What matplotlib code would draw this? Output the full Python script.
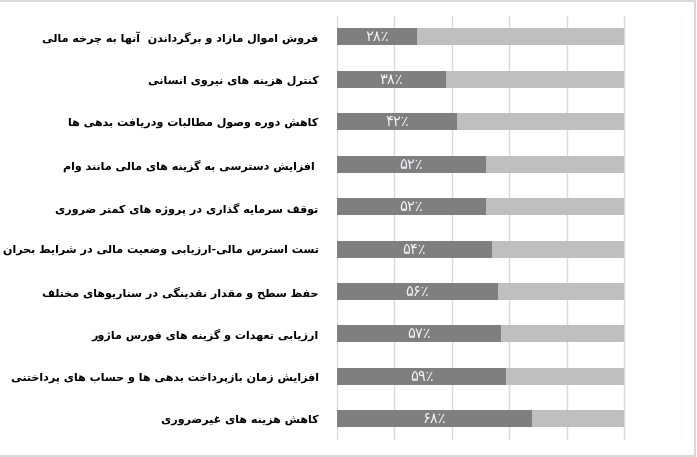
import matplotlib
matplotlib.use("Agg")
import matplotlib.pyplot as plt
from matplotlib.patches import Rectangle

categories = [
    "فروش اموال مازاد و برگرداندن  آنها به چرخه مالی",
    "کنترل هزینه های نیروی انسانی",
    "کاهش دوره وصول مطالبات ودریافت بدهی ها",
    " افزایش دسترسی به گزینه های مالی مانند وام",
    "توقف سرمایه گذاری در پروژه های کمتر ضروری",
    "تست استرس مالی-ارزیابی وضعیت مالی در شرایط بحران",
    "حفظ سطح و مقدار نقدینگی در سناریوهای مختلف",
    "ارزیابی تعهدات و گزینه های فورس ماژور",
    "افزایش زمان بازپرداخت بدهی ها و حساب های پرداختنی",
    "کاهش هزینه های غیرضروری",
]
values = [28, 38, 42, 52, 52, 54, 56, 57, 59, 68]
totals = [100] * len(values)

# --- minimal Arabic/Persian shaping for matplotlib (no bidi engine) ---
FORMS = {
    'ا': (0xFE8D, 0xFE8E, None, None), 'آ': (0xFE81, 0xFE82, None, None),
    'ب': (0xFE8F, 0xFE90, 0xFE91, 0xFE92), 'پ': (0xFB56, 0xFB57, 0xFB58, 0xFB59),
    'ت': (0xFE95, 0xFE96, 0xFE97, 0xFE98), 'ث': (0xFE99, 0xFE9A, 0xFE9B, 0xFE9C),
    'ج': (0xFE9D, 0xFE9E, 0xFE9F, 0xFEA0), 'چ': (0xFB7A, 0xFB7B, 0xFB7C, 0xFB7D),
    'ح': (0xFEA1, 0xFEA2, 0xFEA3, 0xFEA4), 'خ': (0xFEA5, 0xFEA6, 0xFEA7, 0xFEA8),
    'د': (0xFEA9, 0xFEAA, None, None), 'ذ': (0xFEAB, 0xFEAC, None, None),
    'ر': (0xFEAD, 0xFEAE, None, None), 'ز': (0xFEAF, 0xFEB0, None, None),
    'ژ': (0xFB8A, 0xFB8B, None, None),
    'س': (0xFEB1, 0xFEB2, 0xFEB3, 0xFEB4), 'ش': (0xFEB5, 0xFEB6, 0xFEB7, 0xFEB8),
    'ص': (0xFEB9, 0xFEBA, 0xFEBB, 0xFEBC), 'ض': (0xFEBD, 0xFEBE, 0xFEBF, 0xFEC0),
    'ط': (0xFEC1, 0xFEC2, 0xFEC3, 0xFEC4), 'ظ': (0xFEC5, 0xFEC6, 0xFEC7, 0xFEC8),
    'ع': (0xFEC9, 0xFECA, 0xFECB, 0xFECC), 'غ': (0xFECD, 0xFECE, 0xFECF, 0xFED0),
    'ف': (0xFED1, 0xFED2, 0xFED3, 0xFED4), 'ق': (0xFED5, 0xFED6, 0xFED7, 0xFED8),
    'ک': (0xFB8E, 0xFB8F, 0xFB90, 0xFB91), 'گ': (0xFB92, 0xFB93, 0xFB94, 0xFB95),
    'ل': (0xFEDD, 0xFEDE, 0xFEDF, 0xFEE0), 'م': (0xFEE1, 0xFEE2, 0xFEE3, 0xFEE4),
    'ن': (0xFEE5, 0xFEE6, 0xFEE7, 0xFEE8), 'ه': (0xFEE9, 0xFEEA, 0xFEEB, 0xFEEC),
    'و': (0xFEED, 0xFEEE, None, None), 'ی': (0xFBFC, 0xFBFD, 0xFBFE, 0xFBFF),
    'ي': (0xFBFC, 0xFBFD, 0xFBFE, 0xFBFF),
    'ئ': (0xFE89, 0xFE8A, 0xFE8B, 0xFE8C),
}


def shape(text):
    chars = list(text)
    out = []
    n = len(chars)
    i = 0
    while i < n:
        c = chars[i]
        if c not in FORMS:
            out.append(c)
            i += 1
            continue
        prev = chars[i - 1] if i > 0 else None
        join_prev = prev in FORMS and FORMS[prev][2] is not None
        # lam-alef ligature
        if c == 'ل' and i + 1 < n and chars[i + 1] == 'ا':
            out.append(chr(0xFEFC if join_prev else 0xFEFB))
            i += 2
            continue
        nxt = chars[i + 1] if i + 1 < n else None
        iso, fin, ini, med = FORMS[c]
        join_next = ini is not None and nxt in FORMS
        if join_prev and join_next:
            out.append(chr(med))
        elif join_prev:
            out.append(chr(fin))
        elif join_next:
            out.append(chr(ini))
        else:
            out.append(chr(iso))
        i += 1
    return ''.join(reversed(out))


PERSIAN_DIGITS = str.maketrans('0123456789', '۰۱۲۳۴۵۶۷۸۹')


def pct(v):
    return str(v).translate(PERSIAN_DIGITS) + '٪'


dark = '#7f7f7f'
light = '#bfbfbf'
grid = '#d9d9d9'

fig = plt.figure(figsize=(6.97, 4.57), dpi=100)
ax = fig.add_axes([0.4831, 0.0372, 0.978 - 0.4831, 0.9284])

n = len(categories)
ypos = list(range(n))
ax.barh(ypos, totals, height=0.4, color=light, zorder=2)
ax.barh(ypos, values, height=0.4, color=dark, zorder=3)

for y, v in zip(ypos, values):
    ax.text(v / 2, y, pct(v), ha='center', va='center', color='#f2f4f8',
            fontsize=10.5, family=['DejaVu Sans'], zorder=4)

ax.set_xlim(0, 120)
ax.set_ylim(n - 0.5, -0.5)
ax.set_xticks(range(0, 121, 20))
ax.xaxis.grid(True, color=grid, linewidth=1, zorder=0)
ax.tick_params(axis='x', length=0, labelbottom=False)
ax.tick_params(axis='y', length=0)
ax.set_yticks(ypos)
ax.set_yticklabels([shape(c) for c in categories], fontsize=8,
                   fontweight='bold', family=['DejaVu Sans'])
ax.tick_params(axis='y', pad=13)
for s in ax.spines.values():
    s.set_visible(False)

fig.patches.append(Rectangle((-0.01, 0.002), 1.007, 0.995, transform=fig.transFigure,
                             fill=False, edgecolor=grid, linewidth=1.5))

fig.savefig('out.png', dpi=100)
